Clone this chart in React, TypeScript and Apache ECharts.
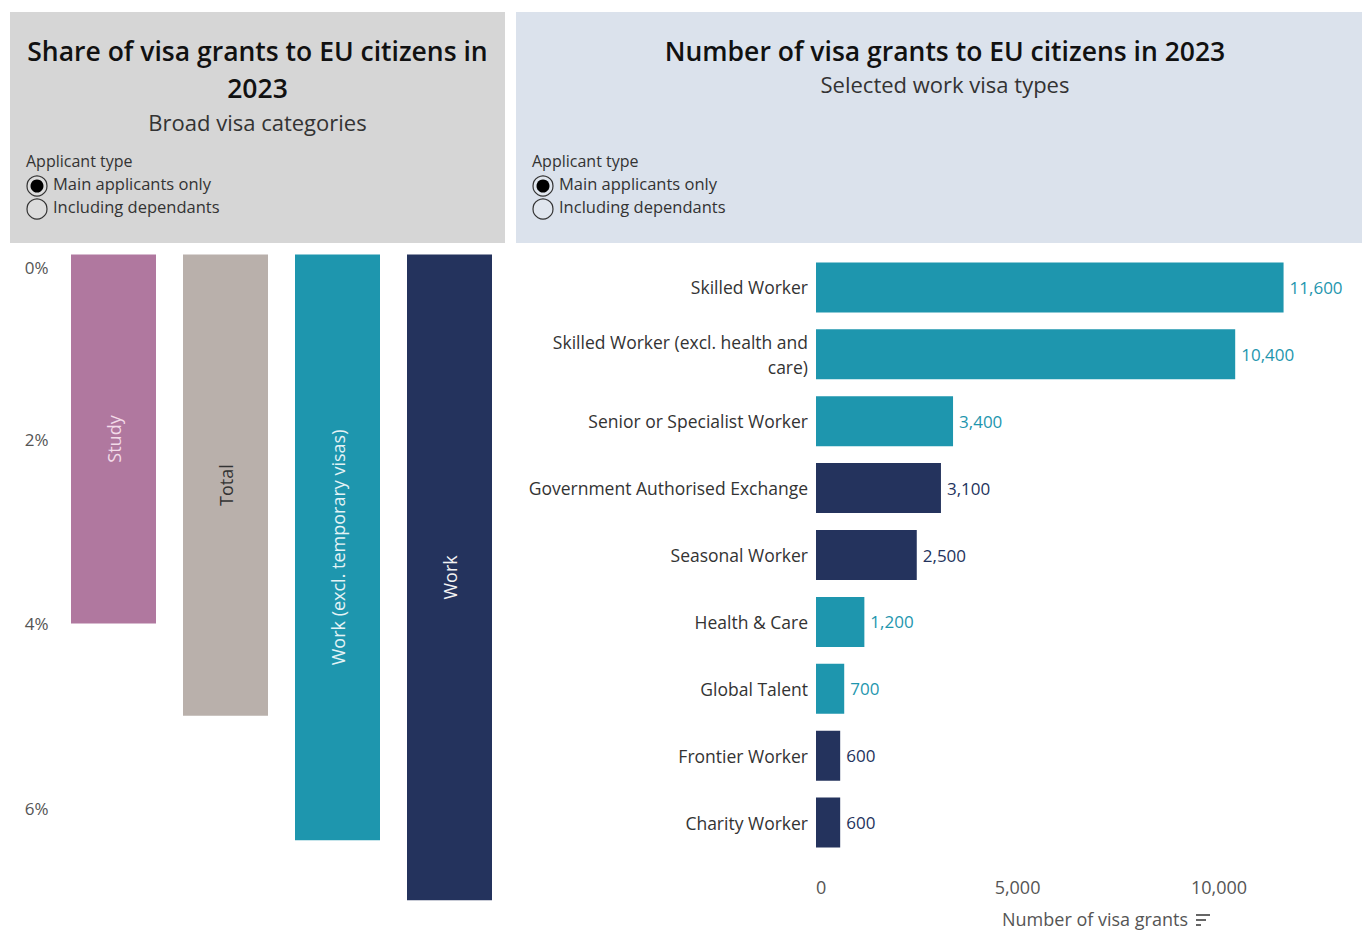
import React, { useEffect, useRef } from "react";
import * as echarts from "echarts";

// ---- Left chart data: share of visa grants to EU citizens (%) ----
const shareCategories = ["Study", "Total", "Work (excl. temporary visas)", "Work"];
const shareValues = [4.0, 5.0, 6.35, 7.0];
const shareColors = ["#b0789f", "#b9b0ab", "#1e96ae", "#24335d"];
const shareLabelColors = ["#f3dbe9", "#333333", "#e4f3f6", "#f2f2f2"];
const shareTicks = ["0%", "2%", "4%", "6%"];

// ---- Right chart data: number of visa grants by work visa type ----
const visaTypes = [
  "Skilled Worker",
  "Skilled Worker (excl. health and care)",
  "Senior or Specialist Worker",
  "Government Authorised Exchange",
  "Seasonal Worker",
  "Health & Care",
  "Global Talent",
  "Frontier Worker",
  "Charity Worker",
];
const visaGrants = [11600, 10400, 3400, 3100, 2500, 1200, 700, 600, 600];
const visaGroup = ["long", "long", "long", "temp", "temp", "long", "long", "temp", "temp"];
const groupColors: Record<string, string> = { long: "#1e96ae", temp: "#24335d" };

const FONT = "'Open Sans', 'Noto Sans', sans-serif";

function wrap(s: string, max: number): string {
  const words = s.split(" ");
  const lines: string[] = [];
  let cur = "";
  for (const w of words) {
    const next = cur ? cur + " " + w : w;
    if (next.length > max && cur) {
      lines.push(cur);
      cur = w;
    } else cur = next;
  }
  if (cur) lines.push(cur);
  return lines.join("\n");
}

function legendBlock(x: number): any[] {
  return [
    { type: "text", left: x, top: 153, style: { text: "Applicant type", font: `16px ${FONT}`, fill: "#333" } },
    { type: "circle", shape: { cx: x + 11, cy: 186, r: 10 }, style: { fill: "rgba(255,255,255,0.15)", stroke: "#333", lineWidth: 1.2 } },
    { type: "circle", shape: { cx: x + 11, cy: 186, r: 6.5 }, style: { fill: "#000" } },
    { type: "text", left: x + 27, top: 175, style: { text: "Main applicants only", font: `16.5px ${FONT}`, fill: "#333" } },
    { type: "circle", shape: { cx: x + 11, cy: 209, r: 10 }, style: { fill: "rgba(255,255,255,0.15)", stroke: "#333", lineWidth: 1.2 } },
    { type: "text", left: x + 27, top: 198, style: { text: "Including dependants", font: `16.5px ${FONT}`, fill: "#333" } },
  ];
}

export default function App() {
  const ref = useRef<HTMLDivElement>(null);
  useEffect(() => {
    if (!ref.current) return;
    const chart = echarts.init(ref.current, undefined, { renderer: "svg" });
    const option: any = {
      animation: false,
      backgroundColor: "#ffffff",
      textStyle: { fontFamily: FONT },
      graphic: [
        { type: "rect", z: -10, shape: { x: 10, y: 12, width: 495, height: 231 }, style: { fill: "#d6d6d6" } },
        { type: "rect", z: -10, shape: { x: 516, y: 12, width: 846, height: 231 }, style: { fill: "#dbe2ec" } },
        {
          type: "text", x: 257.5, y: 51,
          style: { text: "Share of visa grants to EU citizens in", font: `600 26.5px ${FONT}`, fill: "#111", align: "center", verticalAlign: "middle" },
        },
        { type: "text", x: 257.5, y: 88, style: { text: "2023", font: `600 26.5px ${FONT}`, fill: "#111", align: "center", verticalAlign: "middle" } },
        { type: "text", x: 257.5, y: 122, style: { text: "Broad visa categories", font: `22px ${FONT}`, fill: "#333", align: "center", verticalAlign: "middle" } },
        {
          type: "text", x: 945, y: 51,
          style: { text: "Number of visa grants to EU citizens in 2023", font: `600 26.5px ${FONT}`, fill: "#111", align: "center", verticalAlign: "middle" },
        },
        { type: "text", x: 945, y: 84, style: { text: "Selected work visa types", font: `22px ${FONT}`, fill: "#333", align: "center", verticalAlign: "middle" } },
        ...legendBlock(26),
        ...legendBlock(532),
        { type: "line", shape: { x1: 1196, y1: 915, x2: 1210, y2: 915 }, style: { stroke: "#555", lineWidth: 1.8 } },
        { type: "line", shape: { x1: 1196, y1: 920, x2: 1206, y2: 920 }, style: { stroke: "#555", lineWidth: 1.8 } },
        { type: "line", shape: { x1: 1196, y1: 925, x2: 1201, y2: 925 }, style: { stroke: "#555", lineWidth: 1.8 } },
      ],
      grid: [
        { left: 57.5, top: 254.5, width: 448, height: 655 },
        { left: 816, top: 254, width: 524, height: 613 },
      ],
      xAxis: [
        {
          gridIndex: 0, type: "category", data: shareCategories,
          axisLine: { show: false }, axisTick: { show: false }, axisLabel: { show: false },
        },
        {
          gridIndex: 1, type: "value", min: 0, max: 13000, interval: 5000,
          axisLine: { show: false }, axisTick: { show: false }, splitLine: { show: false },
          axisLabel: {
            showMaxLabel: false, alignMinLabel: "left", margin: 22, fontSize: 18, color: "#555",
            formatter: (v: number) => v.toLocaleString("en-US"),
          },
          name: "Number of visa grants", nameLocation: "middle", nameGap: 54,
          nameTextStyle: { fontSize: 18, color: "#555", padding: [0, 0, 0, 34] },
        },
      ],
      yAxis: [
        {
          gridIndex: 0, type: "value", inverse: true, min: 0, max: 7.1, interval: 2,
          axisLine: { show: false }, axisTick: { show: false }, splitLine: { show: false },
          axisLabel: {
            showMaxLabel: false, verticalAlignMinLabel: "top", margin: 9, fontSize: 17, color: "#555",
            formatter: (v: number) => (v === 0 ? "{z|0%}" : shareTicks[Math.round(v / 2)] ?? ""),
            rich: { z: { fontSize: 17, color: "#555", padding: [4, 0, 0, 0] } },
          },
        },
        {
          gridIndex: 1, type: "category", inverse: true, data: visaTypes,
          axisLine: { show: false }, axisTick: { show: false },
          axisLabel: {
            margin: 8, fontSize: 17.5, color: "#333", lineHeight: 25, align: "right",
            formatter: (v: string) => wrap(v, 32),
          },
        },
      ],
      series: [
        {
          type: "bar", xAxisIndex: 0, yAxisIndex: 0, barWidth: 85,
          data: shareValues.map((v, i) => ({
            value: v,
            itemStyle: { color: shareColors[i] },
            label: { color: shareLabelColors[i] },
          })),
          label: {
            show: true, position: "inside", rotate: 90, fontSize: 18,
            formatter: (p: any) => p.name,
          },
        },
        {
          type: "bar", xAxisIndex: 1, yAxisIndex: 1, barWidth: 50,
          data: visaGrants.map((v, i) => ({
            value: v,
            itemStyle: { color: groupColors[visaGroup[i]] },
            label: { color: groupColors[visaGroup[i]] },
          })),
          label: {
            show: true, position: "right", distance: 6, fontSize: 17, fontWeight: 500,
            formatter: (p: any) => Number(p.value).toLocaleString("en-US"),
          },
        },
      ],
    };
    chart.setOption(option);
    return () => chart.dispose();
  }, []);
  return <div ref={ref} style={{ position: "fixed", left: 0, top: 0, width: 1362, height: 933 }} />;
}
